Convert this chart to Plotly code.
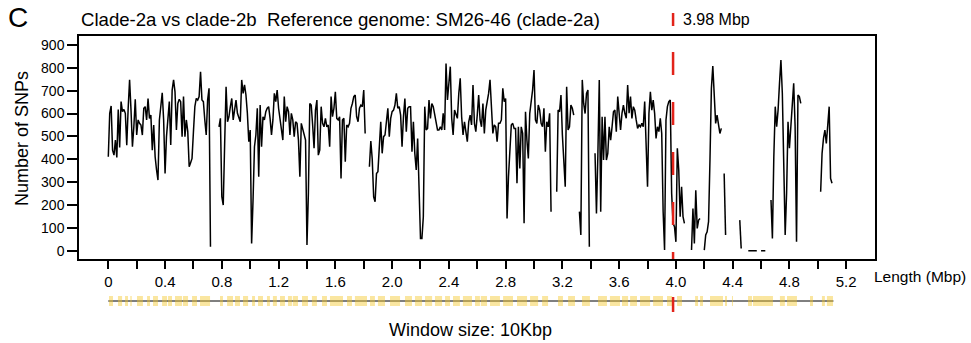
import plotly.graph_objects as go

# ---------------- data ----------------
WINDOW_MBP = 0.01          # 10 Kbp windows
N = None                   # window with no data (gap in the line)

snp_counts = [
    411, 601, 633, 440, 418, 484, 408, 618, 452, 652,   # 0.0
    608, 618, 601, 462, 623, 747, 615, 455, 542, 662,   # 0.1
    506, 572, 557, 550, 506, 623, 630, 572, 666, 579,   # 0.2
    593, 440, 550, 411, 353, 309, 572, 630, 691, 572,   # 0.3
    338, 499, 586, 652, 462, 703, 747, 695, 528, 644,   # 0.4
    662, 652, 499, 674, 499, 572, 521, 367, 385, 404,   # 0.5
    520, 630, 666, 659, 674, 783, 659, 652, 572, 506,   # 0.6
    659, 710, 18, N, N, N, N, N, 542, 579,              # 0.7
    236, 200, 469, 717, 564, 586, 630, 666, 572, 615,   # 0.8
    659, 601, 579, 564, 747, 688, 725, 681, 601, 477,   # 0.9
    528, 32, 222, 455, 506, 623, 324, 637, 455, 586,    # 1.0
    572, 608, 623, 630, 579, 506, 572, 688, 652, 703,   # 1.1
    623, 579, 521, 484, 674, 564, 630, 608, 506, 601,   # 1.2
    572, 499, 564, 557, 484, 324, 557, 528, 506, 484,   # 1.3
    25, 251, 644, 637, 550, 448, 615, 659, 418, 440,    # 1.4
    630, 557, 542, 579, 542, 550, 455, 674, 586, 623,   # 1.5
    695, 579, 572, 586, 316, 572, 579, 389, 550, 542,   # 1.6
    557, 623, 644, 674, 681, 586, 564, 623, 637, 630,   # 1.7
    703, 513, N, N, 367, 480, 400, 236, 214, 338,       # 1.8
    346, 455, 564, 426, 499, 506, 572, 623, 499, 579,   # 1.9
    608, 615, 637, 688, 623, 630, 593, 455, 586, 666,   # 2.0
    521, 623, 630, 630, 433, 564, 426, 353, 491, 251,   # 2.1
    54, 54, 149, 630, 528, 535, 659, 579, 644, 630,     # 2.2
    601, 572, 528, 528, 542, 528, 601, 528, 819, 659,   # 2.3
    732, 805, 579, 506, 615, 593, 579, 688, 754, 586,   # 2.4
    506, 564, 521, 477, 564, 593, 550, 725, 557, 521,   # 2.5
    593, 681, 572, 542, 644, 513, 615, 644, 688, 747,   # 2.6
    630, 513, 550, 542, 477, 557, 557, 572, 710, 652,   # 2.7
    666, 141, 324, 448, 550, 557, 535, 535, 295, 542,   # 2.8
    360, 542, 513, 120, 608, 484, 404, 601, 644, 703,   # 2.9
    790, 572, 557, 637, 615, 557, 542, 623, 433, 564,   # 3.0
    542, 601, 171, N, N, N, 258, 615, 608, 681,         # 3.1
    506, 353, 280, 717, 528, 542, 637, 623, 593, N,     # 3.2
    N, N, 171, 69, 747, 644, 600, 688, 703, 18,         # 3.3
    N, N, N, 426, 163, 418, 747, 171, 586, 397,         # 3.4
    586, 397, 426, 542, 484, 542, 608, 615, 521, 674,   # 3.5
    608, 528, 601, 637, 601, 579, 725, 601, 674, 579,   # 3.6
    630, 615, 572, 535, 550, 542, 557, 542, 652, 448,   # 3.7
    280, 601, 695, 615, 659, 601, 491, 542, 521, 579,   # 3.8
    513, 171, 3, 572, 630, 652, 659, 251, 120, 105,     # 3.9
    39, 448, 353, 149, 280, 149, 120, N, N, N,          # 4.0
    N, 3, 185, 32, 265, 98, 134, 141, N, N,             # 4.1
    3, 69, 83, 127, 397, 710, 808, 688, 557, 593,       # 4.2
    542, 513, 535, N, 338, 69, N, N, N, N,              # 4.3
    N, N, N, N, N, 134, 10, N, N, N,                    # 4.4
    N, 0, 0, 0, 0, 0, 0, 0, N, N,                       # 4.5
    0, 0, 0, 0, N, N, N, 222, 54, 411,                  # 4.6
    630, 542, 615, 732, 834, 688, 397, 69, 251, 564,    # 4.7
    448, 550, 659, 732, 542, 39, 681, 674, 644, N,      # 4.8
    N, N, N, N, N, N, N, N, N, N,                       # 4.9
    N, N, 258, 426, 491, 528, 469, 564, 630, 316,       # 5.0
    295,                                                # 5.1
]
window_start_mbp = [round(i * WINDOW_MBP, 2) for i in range(len(snp_counts))]

x_tick_values = [0, 0.2, 0.4, 0.6, 0.8, 1.0, 1.2, 1.4, 1.6, 1.8, 2.0, 2.2, 2.4,
                 2.6, 2.8, 3.0, 3.2, 3.4, 3.6, 3.8, 4.0, 4.2, 4.4, 4.6, 4.8, 5.0, 5.2]
x_tick_labels = ["0", "", "0.4", "", "0.8", "", "1.2", "", "1.6", "", "2.0", "", "2.4",
                 "", "2.8", "", "3.2", "", "3.6", "", "4.0", "", "4.4", "", "4.8", "", "5.2"]
y_tick_values = [0, 100, 200, 300, 400, 500, 600, 700, 800, 900]

breakpoint_mbp = 3.98
breakpoint_label = "3.98 Mbp"
genome_end_mbp = 5.11

# gene blocks on the annotation track (start, end) in Mbp
gene_blocks = [
    (0.005, 0.033), (0.068, 0.097), (0.118, 0.139), (0.155, 0.165), (0.202, 0.244),
    (0.273, 0.294), (0.315, 0.350), (0.379, 0.414), (0.421, 0.449), (0.470, 0.519),
    (0.526, 0.562), (0.590, 0.625), (0.646, 0.717),
    (0.787, 0.808), (0.837, 0.879), (0.893, 0.928), (0.949, 0.985), (1.013, 1.034),
    (1.055, 1.090), (1.118, 1.139), (1.160, 1.188), (1.210, 1.245), (1.266, 1.294),
    (1.300, 1.337), (1.365, 1.407), (1.435, 1.470), (1.506, 1.541), (1.562, 1.654),
    (1.682, 1.717), (1.738, 1.823), (1.844, 1.879), (1.900, 1.950), (1.985, 2.056),
    (2.091, 2.140), (2.161, 2.211), (2.232, 2.282), (2.302, 2.352), (2.373, 2.408),
    (2.429, 2.478), (2.499, 2.563), (2.584, 2.619),
    (2.625, 2.669), (2.690, 2.760), (2.782, 2.852), (2.880, 2.951), (2.972, 3.029),
    (3.057, 3.099), (3.169, 3.204), (3.240, 3.289), (3.338, 3.394), (3.451, 3.514),
    (3.535, 3.606), (3.620, 3.663), (3.677, 3.726), (3.747, 3.818), (3.839, 3.909),
    (3.937, 3.973),
    (4.008, 4.043), (4.135, 4.156), (4.170, 4.191), (4.240, 4.332), (4.346, 4.360),
    (4.395, 4.402), (4.508, 4.536), (4.543, 4.607), (4.607, 4.663), (4.663, 4.684),
    (4.733, 4.768), (4.783, 4.853), (4.945, 4.966), (5.029, 5.050), (5.064, 5.107),
]

# ---------------- figure ----------------
FONT = "Liberation Sans, Arial, sans-serif"
RED = "#e2231a"

fig = go.Figure()

fig.add_trace(go.Scatter(
    x=window_start_mbp, y=snp_counts, mode="lines",
    line=dict(color="black", width=1.5), connectgaps=False,
    xaxis="x", yaxis="y", showlegend=False, hoverinfo="x+y"))

# annotation track
fig.add_trace(go.Scatter(
    x=[0, genome_end_mbp], y=[0, 0], mode="lines",
    line=dict(color="black", width=1), xaxis="x2", yaxis="y2",
    showlegend=False, hoverinfo="skip"))
gx, gy = [], []
for s, e in gene_blocks:
    gx += [s, e, None]
    gy += [0, 0, None]
fig.add_trace(go.Scatter(
    x=gx, y=gy, mode="lines",
    line=dict(color="rgba(245,200,45,0.45)", width=10), xaxis="x2", yaxis="y2",
    showlegend=False, hoverinfo="skip"))

W, H = 971, 343
ml, mr, mt, mb = 79, 96, 36, 31
pw, ph = W - ml - mr, H - mt - mb


def px_x(p):
    return (p - ml) / pw


def px_y(p):
    return (H - mb - p) / ph


main_bottom = px_y(259)

fig.update_layout(
    width=W, height=H,
    margin=dict(l=ml, r=mr, t=mt, b=mb),
    paper_bgcolor="white", plot_bgcolor="white",
    font=dict(family=FONT, color="black"),
    xaxis=dict(domain=[0, 1], anchor="y", range=[-0.2065, 5.403],
               showline=True, linecolor="black", linewidth=1.5, mirror=True,
               ticks="outside", ticklen=8, tickwidth=1.5, tickcolor="black",
               tickvals=x_tick_values, ticktext=x_tick_labels,
               tickfont=dict(size=15, family=FONT),
               showgrid=False, zeroline=False),
    yaxis=dict(domain=[main_bottom, 1], anchor="x", range=[-36, 939],
               showline=True, linecolor="black", linewidth=1.5, mirror=True,
               ticks="outside", ticklen=10, tickwidth=1.5, tickcolor="black",
               tickvals=y_tick_values, tickfont=dict(size=14, family=FONT),
               showgrid=False, zeroline=False),
    xaxis2=dict(domain=[0, 1], anchor="y2", matches="x", visible=False),
    yaxis2=dict(domain=[0, px_y(290)], anchor="x2", range=[-1, 1], visible=False),
)

# dashed breakpoint line in the main panel
fig.add_shape(type="line", xref="x", yref="y domain",
              x0=breakpoint_mbp, x1=breakpoint_mbp, y0=1 - 16 / 223, y1=0,
              line=dict(color=RED, width=2.5, dash="23px,27px"))
# red mark on the annotation track
fig.add_shape(type="line", xref="x", yref="paper",
              x0=breakpoint_mbp, x1=breakpoint_mbp, y0=px_y(297), y1=px_y(312),
              line=dict(color=RED, width=2.5))
# legend mark
fig.add_shape(type="line", xref="x", yref="paper",
              x0=breakpoint_mbp, x1=breakpoint_mbp, y0=px_y(13), y1=px_y(26),
              line=dict(color=RED, width=2.5))

annotations = [
    dict(text=breakpoint_label, x=breakpoint_mbp, xref="x", xshift=8, xanchor="left",
         y=px_y(19.5), yref="paper", yanchor="middle", font=dict(size=16)),
    dict(text="Clade-2a vs clade-2b  Reference genome: SM26-46 (clade-2a)",
         x=px_x(79), xref="paper", xanchor="left", y=px_y(20), yref="paper",
         yanchor="middle", font=dict(size=18.6)),
    dict(text="C", x=px_x(17.5), xref="paper", xanchor="center",
         y=px_y(18), yref="paper", yanchor="middle", font=dict(size=28)),
    dict(text="Number of SNPs", textangle=-90, x=px_x(22), xref="paper",
         xanchor="center", y=px_y(138), yref="paper", yanchor="middle",
         font=dict(size=18)),
    dict(text="Length (Mbp)", x=px_x(872), xref="paper", xanchor="left",
         y=px_y(276), yref="paper", yanchor="middle", font=dict(size=15.5)),
    dict(text="Window size: 10Kbp", x=px_x(470), xref="paper", xanchor="center",
         y=px_y(330), yref="paper", yanchor="middle", font=dict(size=18)),
]
for a in annotations:
    a.setdefault("showarrow", False)
    fig.add_annotation(**a)

fig.write_html("out.html")
